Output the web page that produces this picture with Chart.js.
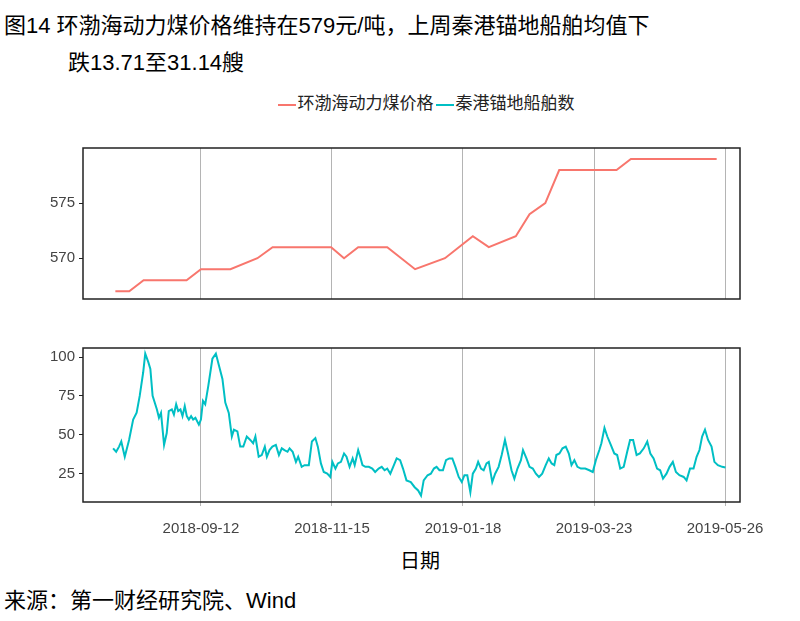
<!DOCTYPE html>
<html><head><meta charset="utf-8">
<script src="https://cdn.jsdelivr.net/npm/chart.js@4/dist/chart.umd.min.js"></script>
<style>
body{margin:0;width:800px;height:621px;background:#fff;position:relative;font-family:"Liberation Sans","Noto Sans CJK SC",sans-serif;overflow:hidden}
.t{position:absolute;font-size:22px;color:#000;white-space:nowrap}
canvas{position:absolute;left:0}
#lg{position:absolute;top:89px;left:0;width:850px;text-align:center;font-size:17px;color:#222}
#lg i{display:inline-block;width:18px;height:2px;vertical-align:middle;margin:0 2px}
</style></head><body>
<div class="t" style="left:4px;top:7px">图14 环渤海动力煤价格维持在579元/吨，上周秦港锚地船舶均值下</div>
<div class="t" style="left:68px;top:44px">跌13.71至31.14艘</div>
<div id="lg"><i style="background:#F8766D"></i>环渤海动力煤价格<i style="background:#00BFC4"></i>秦港锚地船舶数</div>
<div style="position:absolute;left:0;width:800px;text-align:center;top:545px;font-size:20px;padding-left:40px;box-sizing:border-box">日期</div>
<div class="t" style="left:4px;top:582px">来源：第一财经研究院、Wind</div>
<canvas id="c1" style="top:135px;width:800px;height:177px"></canvas>
<canvas id="c2" style="top:335px;width:800px;height:207px"></canvas>
<script>
const tickDays=[0,64,128,192,256];
const tickLabels=["2018-09-12","2018-11-15","2019-01-18","2019-03-23","2019-05-26"];
const priceDays=[-41.8,-35,-28,-7,0,14.4,27.6,35,63.6,69.9,76.8,91,104.6,119.2,132.8,140.6,153.8,160.5,168.2,175,203,210,251.9];
const priceVals=[567,567,568,568,569,569,570,571,571,570,571,571,569,570,572,571,572,574,575,578,578,579,579];
const shipDays=[-42.9,-41.4,-40,-38.9,-37.2,-35.1,-33.1,-31.4,-29.9,-28.2,-27.2,-25.7,-24.7,-23.6,-21.5,-20.5,-19.5,-18,-16.7,-15.7,-14.2,-13.2,-12.1,-11.1,-10,-9,-7.9,-6.9,-5.9,-4.8,-3.8,-2.7,-1,0,1,2.1,3.6,5.6,7.3,8.8,10.5,11.9,13.6,15.1,16.1,17.8,19.2,20.7,22.4,24.1,25.5,26.6,28.2,29.7,31.2,32.2,33.5,34.9,36.6,38.1,39.5,40.8,42.3,43.3,44.8,46.4,47.5,49.2,50.6,52.7,54.2,55.9,57.1,58.6,60,61.7,63.2,64.2,65.7,66.9,68.4,69.9,71.1,72.6,74.1,75.1,76.8,77.8,78.9,80.3,82,83.7,85.1,86.8,88.3,89.7,91,92.5,93.9,95.6,97.3,98.7,100.4,102.5,104.4,106.1,107.5,108.8,110.7,112.3,113.8,115.1,116.5,118.2,119.7,121.3,122.8,124.3,125.9,127.4,128.7,130.1,131.6,132.8,134.3,135.4,136.8,138.1,139.5,140.6,142.3,143.7,145.4,146.9,148.5,150,151.7,153.1,154.6,156.3,157.3,159,160.5,162.1,163.6,165.1,166.7,168.4,169.9,171.3,172.6,173.6,175.1,176.6,178.2,179.7,181,182.4,183.9,185.6,187.7,189.7,191.4,192.9,194.6,195.6,197.1,198.5,200.2,201.9,203.3,204.8,206.5,208.2,209.6,211.1,212.8,214.4,216.3,218,219.5,221.1,222.8,224.3,225.7,227.4,228.9,230.5,232,233.7,235.8,237.2,238.9,240.6,242.1,243.5,244.8,246.2,247.7,249.4,250.8,252.5,254.6,256.2];
const shipVals=[41.3,39.1,42.4,45.7,35.9,46.7,59.8,64.2,75,90.2,102.2,96.7,92.4,75,66.3,60.9,64.1,43.5,51.1,65.2,66.3,63,69.6,65.2,66.3,62,68.5,62,59.8,62,59.8,60.9,56.5,59.8,71.8,69.6,81.5,98.9,102.2,94.6,85.9,70.7,64.1,48.9,53.3,52.2,42.4,42.4,48.9,46.7,44.6,48.9,35.9,37,42.4,35.9,40.2,42.4,43.5,37,41.3,40.2,39.1,41.3,39.1,32.6,35.9,29.4,30.5,30.5,45.7,47.9,42.4,31.6,26.1,25,22.9,32.6,28.3,31.6,32.6,38,35.9,29.4,34.8,30.5,40.2,35.9,30.5,29.4,29.4,28.3,26.1,28.3,29.4,27.2,28.3,25,29.4,34.8,33.7,28.3,20.7,19.6,16.3,14.2,10.9,20.7,24,25,28.3,29.4,27.2,27.2,33.7,34.8,34.8,29.4,22.9,19.6,24,24,13.1,25,28.3,32.6,28.3,27.2,31.6,32.6,19.6,25,29.4,37,46.7,38,27.2,21.8,28.3,33.7,40.2,34.8,29.4,28.3,25,22.9,25,30.5,34.8,31.6,30.5,37,38,41.3,42.4,38,30.5,33.7,29.4,28.3,28.3,27.2,26.1,33.7,40.2,44.6,54.4,48.9,43.5,38,37,28.3,29.4,39.1,46.7,46.7,37,38,41.3,45.7,38,34.8,28.3,27.2,21.8,25,29.4,32.6,26.1,24,22.9,20.7,28.3,28.3,35.9,40.2,48.9,53.3,46.7,42.4,32.6,30.5,29.4,29];

const frame={id:'frame',afterDraw(c){const a=c.chartArea,x=c.ctx;x.save();x.strokeStyle='#222';x.lineWidth=1.5;x.strokeRect(a.left,a.top,a.right-a.left,a.bottom-a.top);x.restore();}};
function mk(id,days,vals,color,ymin,ymax,yticks,showX){
  new Chart(document.getElementById(id),{type:'line',
    data:{datasets:[{data:days.map((d,i)=>({x:d,y:vals[i]})),borderColor:color,borderWidth:2,pointRadius:0,tension:0}]},
    options:{responsive:false,animation:false,devicePixelRatio:1,
      layout:{padding:{top:7,right:60,left:0,bottom:showX?0:2}},
      plugins:{legend:{display:false},tooltip:{enabled:false}},
      scales:{
        x:{type:'linear',min:-57.6,max:263.3,
          afterBuildTicks:s=>{s.ticks=tickDays.map(v=>({value:v}));},
          afterFit:s=>{s.height=showX?40:0;},
          grid:{color:'#b4b4b4',lineWidth:1,tickLength:4,drawTicks:showX},
          border:{display:false},
          ticks:{display:showX,color:'#444',font:{size:15,family:'Liberation Sans'},maxRotation:0,padding:14,
            callback:(v)=>tickLabels[tickDays.indexOf(v)]}},
        y:{min:ymin,max:ymax,
          afterBuildTicks:s=>{s.ticks=yticks.map(v=>({value:v}));},
          afterFit:s=>{s.width=83;},
          grid:{drawOnChartArea:false,tickLength:4,color:'#222'},
          border:{display:false},
          ticks:{color:'#444',font:{size:15,family:'Liberation Sans'},padding:4}}
      }},plugins:[frame]});
}
const c1=document.getElementById('c1');c1.width=800;c1.height=177;
const c2=document.getElementById('c2');c2.width=800;c2.height=207;
mk('c1',priceDays,priceVals,'#F8766D',566.3,580,[570,575],false);
mk('c2',shipDays,shipVals,'#00BFC4',6.8,105.8,[25,50,75,100],true);
</script></body></html>
